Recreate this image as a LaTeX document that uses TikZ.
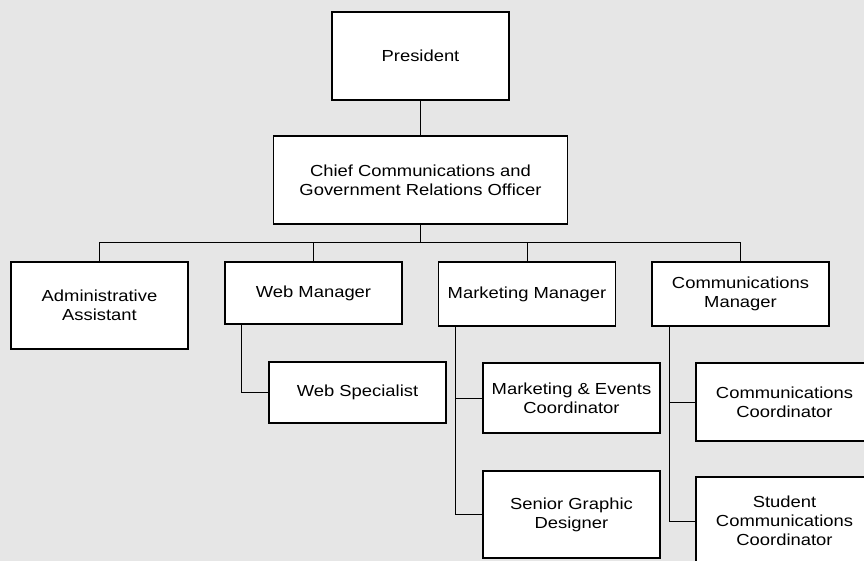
\documentclass[tikz,border=0pt]{standalone}
\usepackage{fontspec}
\setmainfont{Liberation Sans}[FakeStretch=1.15]
\usepackage{tikz}
\definecolor{bg}{HTML}{E6E6E6}
\tikzset{
	box/.style 2 args={draw,line width=1.3pt,fill=white,minimum width=#1,minimum height=#2,inner sep=0pt,align=center,font=\fontsize{16}{19}\selectfont},
	link/.style={line width=0.8pt}
}

\begin{document}
\begin{tikzpicture}[x=1pt,y=-1pt]
						\useasboundingbox (0,0) rectangle (864,561);
						\fill [bg] (0,0) rectangle (864,561);
						\clip (0,0) rectangle (864,561);

						\node [box={177pt}{88pt}] (pres) at (420.5,56) {President};
						\node [box={294pt}{88pt}] (chief) at (420.5,180) {Chief Communications and\\Government Relations Officer};

						\node [box={177pt}{87pt}] (admin) at (99.5,305.5) {Administrative\\Assistant};
						\node [box={177pt}{62pt}] (webmgr) at (313.5,293) {Web Manager};
						\node [box={177pt}{64pt}] (mktmgr) at (527,294) {Marketing Manager};
						\node [box={177pt}{64pt}] (commmgr) at (740.5,294) {Communications\\Manager};

						\node [box={177pt}{61pt}] (webspec) at (357.5,392.5) {Web Specialist};
						\node [box={177pt}{70pt}] (mecoord) at (571.5,398) {Marketing \& Events\\Coordinator};
						\node [box={177pt}{87pt}] (designer) at (571.5,514.5) {Senior Graphic\\Designer};
						\node [box={177pt}{78pt}] (commcoord) at (784.5,402) {Communications\\Coordinator};
						\node [box={177pt}{88pt}] (student) at (784.5,521) {Student\\Communications\\Coordinator};

						\draw [link] (pres) -- (chief);
						\draw [link] (chief.south) -- ++(0,18) coordinate (bus);
						\foreach \n in {admin,webmgr,mktmgr,commmgr}
							\draw [link] (bus) -| (\n.north);

						\draw [link] ([xshift=17pt]webmgr.south west) |- (webspec.west);
						\draw [link] ([xshift=18pt]mktmgr.south west) |- (mecoord.west);
						\draw [link] ([xshift=18pt]mktmgr.south west) |- (designer.west);
						\draw [link] ([xshift=18pt]commmgr.south west) |- (commcoord.west);
						\draw [link] ([xshift=18pt]commmgr.south west) |- (student.west);
					\end{tikzpicture}
\end{document}
